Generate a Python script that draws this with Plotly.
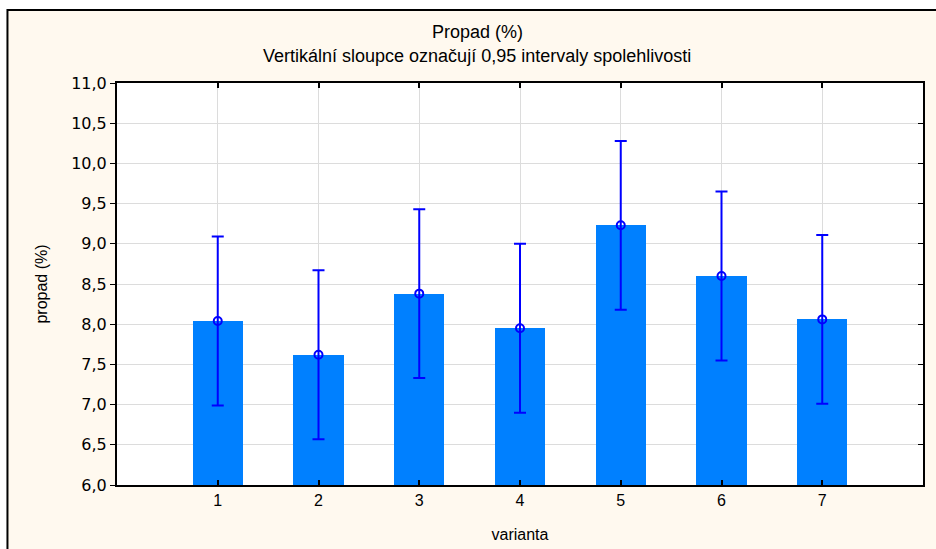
import plotly.graph_objects as go

categories = [1, 2, 3, 4, 5, 6, 7]
means = [8.04, 7.62, 8.38, 7.95, 9.23, 8.60, 8.06]
ci_half = [1.05, 1.05, 1.05, 1.05, 1.05, 1.05, 1.05]
y_ticks = [6.0, 6.5, 7.0, 7.5, 8.0, 8.5, 9.0, 9.5, 10.0, 10.5, 11.0]

title_line1 = "Propad (%)"
title_line2 = "Vertikální sloupce označují 0,95 intervaly spolehlivosti"

fig = go.Figure()
fig.add_trace(go.Bar(
    x=categories, y=[m - 6.0 for m in means], base=6.0,
    width=0.5, marker=dict(color="#0080FF", line=dict(width=0)),
    hoverinfo="skip", showlegend=False,
))
fig.add_trace(go.Scatter(
    x=categories, y=means, mode="markers",
    marker=dict(symbol="circle-open", size=8, color="#0000FF", line=dict(width=2, color="#0000FF")),
    error_y=dict(type="data", array=ci_half, visible=True, color="#0000FF", thickness=2, width=6),
    showlegend=False,
))
# invisible trace for right axis
fig.add_trace(go.Scatter(x=[None], y=[None], yaxis="y2", showlegend=False))

font_main = "Liberation Sans, Arial, sans-serif"
fig.update_layout(
    width=936, height=549,
    margin=dict(l=117, r=13, t=83, b=64, autoexpand=False),
    paper_bgcolor="#FFFFFF",
    plot_bgcolor="#FFFFFF",
    separators=", ",
    bargap=0,
    font=dict(family=font_main, size=16, color="#000000"),
    xaxis=dict(
        range=[0, 8], tickvals=categories, ticktext=[str(c) for c in categories],
        ticks="inside", ticklen=5, tickcolor="#000000", tickwidth=1.5,
        showline=True, linecolor="#000000", linewidth=2, mirror="ticks",
        showgrid=True, gridcolor="#DCDCDC", gridwidth=1, zeroline=False,
        title=dict(text="varianta", font=dict(size=16), standoff=21),
        tickfont=dict(size=16), automargin=False,
    ),
    yaxis=dict(
        range=[6.0, 11.0], tickvals=y_ticks, tickformat=".1f",
        ticks="outside", ticklen=5, tickcolor="#000000", tickwidth=1,
        showline=True, linecolor="#000000", linewidth=2, mirror=True,
        showgrid=True, gridcolor="#DCDCDC", gridwidth=1, zeroline=False,
        title=dict(text="propad (%)", font=dict(size=16), standoff=20),
        tickfont=dict(family="DejaVu Sans, Verdana, sans-serif", size=16),
        automargin=False,
    ),
    yaxis2=dict(
        range=[6.0, 11.0], tickvals=y_ticks, overlaying="y", side="right",
        ticks="inside", ticklen=5, tickcolor="#000000", showticklabels=False,
        showgrid=False, zeroline=False, showline=False, automargin=False,
    ),
    annotations=[
        dict(text=title_line1, xref="paper", yref="paper", x=0.4467, y=1.0,
             yshift=51, xanchor="center", yanchor="middle", showarrow=False,
             font=dict(size=18)),
        dict(text=title_line2, xref="paper", yref="paper", x=0.4467, y=1.0,
             yshift=27, xanchor="center", yanchor="middle", showarrow=False,
             font=dict(size=18)),
    ],
    shapes=[
        dict(type="rect", xref="paper", yref="paper",
             x0=-0.1359, x1=1.05, y0=-0.3, y1=1.1816,
             line=dict(color="#000000", width=2), fillcolor="#FFF9EF", layer="below"),
        dict(type="rect", xref="paper", yref="paper",
             x0=0, x1=1, y0=0, y1=1,
             line=dict(width=0), fillcolor="#FFFFFF", layer="below"),
    ],
)

fig.write_html("out.html", config={"displayModeBar": False},
               post_script="document.body.style.margin='0px';")
